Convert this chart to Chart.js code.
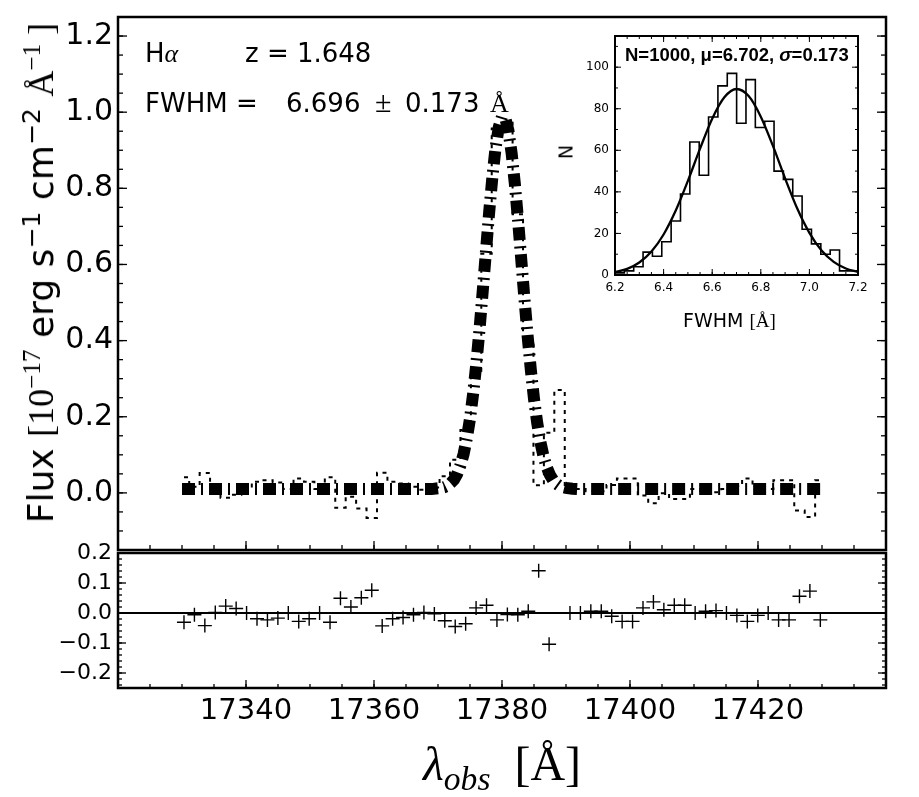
<!DOCTYPE html>
<html><head><meta charset="utf-8">
<script src="https://cdn.jsdelivr.net/npm/chart.js@4.4.1/dist/chart.umd.min.js"></script>
<style>
html,body{margin:0;padding:0;background:#fff;}
#wrap{position:relative;width:919px;height:797px;overflow:hidden;background:#fff;font-family:'DejaVu Sans',sans-serif;color:#000;}
canvas{position:absolute;}
.t{position:absolute;white-space:pre;line-height:1;}
.m{font-family:'Liberation Serif',serif;}
.ib{display:inline-block;}
sup{font-size:0.7em;vertical-align:0.5em;line-height:0;}
</style></head>
<body>
<div id="wrap">
<canvas id="cMain" width="919" height="552" style="left:0;top:0"></canvas>
<canvas id="cRes" width="919" height="257" style="left:0;top:540px"></canvas>
<canvas id="cIns" width="340" height="320" style="left:540px;top:20px"></canvas>

<div class="t" style="left:145px;top:40px;font-size:26px"><span class="ib" style="width:100px">H<i class="m">α</i></span>z = 1.648</div>
<div class="t" style="left:145px;top:87px;font-size:26px"><span class="ib" style="width:141px">FWHM =</span><span class="ib" style="width:89px">6.696</span><span class="ib m" style="width:30px;font-size:30px">±</span><span class="ib" style="width:85px">0.173</span><span class="m">Å</span></div>

<div class="t" id="ylab" style="left:41px;top:273px;font-size:36px;transform:translate(-50%,-50%) rotate(-90deg)">Flux <span class="m">[10<sup>−17</sup></span> erg s<sup>−1</sup> cm<sup>−2</sup> <span class="m">Å<sup>−1</sup> ]</span></div>

<div class="t m" style="left:423px;top:740px;font-size:48px"><i>λ</i><i style="font-size:0.7em;position:relative;top:10px">obs</i>  [Å]</div>

<div class="t" style="left:625px;top:46px;font-size:18.5px;font-family:'Liberation Sans',sans-serif;font-weight:bold">N=1000, μ=6.702, <i>σ</i>=0.173</div>
<div class="t" style="left:683px;top:311px;font-size:19px">FWHM <span class="m">[Å]</span></div>
<div class="t" style="left:566px;top:152px;font-size:19px;transform:translate(-50%,-50%) rotate(-90deg)">N</div>
</div>
<script>
// ---------- data ----------
const wavelength = [17330.31,17331.94,17333.57,17335.20,17336.83,17338.46,17340.09,17341.72,17343.35,17344.98,
 17346.61,17348.24,17349.87,17351.50,17353.13,17354.76,17356.39,17358.02,17359.65,17361.28,
 17362.91,17364.54,17366.17,17367.80,17369.43,17371.06,17372.69,17374.32,17375.95,17377.58,
 17379.21,17380.84,17382.47,17384.10,17385.73,17387.36,17388.99,17390.62,17392.25,17393.88,
 17395.51,17397.14,17398.77,17400.40,17402.03,17403.66,17405.29,17406.92,17408.55,17410.18,
 17411.81,17413.44,17415.07,17416.70,17418.33,17419.96,17421.59,17423.22,17424.85,17426.48,
 17428.11,17429.74];
const flux = [0.041,0.016,0.052,0.008,-0.013,-0.005,0.010,0.029,0.033,0.027,
 0.010,0.038,0.029,0.010,0.041,-0.039,-0.010,-0.041,-0.066,0.053,
 0.029,0.025,0.016,0.008,0.014,0.044,0.087,0.165,0.317,0.628,
 0.957,0.972,0.732,0.390,0.020,0.158,0.270,0.010,0.010,0.004,
 0.004,0.021,0.038,0.038,-0.007,-0.027,-0.001,-0.016,-0.016,0.010,
 0.004,0.002,0.010,0.018,0.038,0.018,0.010,0.033,0.033,-0.046,
 -0.063,0.033];
const residual = [-0.031,-0.006,-0.042,0.002,0.023,0.015,0.000,-0.019,-0.023,-0.017,
 0.000,-0.028,-0.019,0.000,-0.031,0.049,0.020,0.051,0.076,-0.043,
 -0.019,-0.015,-0.006,0.002,-0.003,-0.026,-0.045,-0.036,0.017,0.026,
 -0.023,-0.005,-0.006,0.006,0.141,-0.104,null,0.000,0.000,0.006,
 0.006,-0.011,-0.028,-0.028,0.017,0.037,0.011,0.026,0.026,0.000,
 0.006,0.008,0.000,-0.008,-0.028,-0.008,0.000,-0.023,-0.023,0.056,
 0.073,-0.023];
const modelWave = [17330,17340,17350,17360,17366,17368,17369,17370,17370.5,17371,17371.5,17372,17372.5,17373,17373.5,
 17374,17374.5,17375,17375.5,17376,17376.5,17377,17377.5,17378,17378.5,17379,17379.5,17380,17380.5,17381,
 17381.5,17382,17382.5,17383,17383.5,17384,17384.5,17385,17385.5,17386,17386.5,17387,17387.5,17388,17388.5,
 17389,17389.5,17390,17391,17392,17400,17410,17420,17430];
const modelFlux = [0.010,0.010,0.010,0.010,0.010,0.010,0.010,0.012,0.013,0.015,0.019,0.026,0.035,0.050,0.072,
 0.102,0.143,0.195,0.262,0.341,0.432,0.532,0.636,0.738,0.830,0.907,0.961,0.988,0.985,0.952,
 0.893,0.813,0.718,0.615,0.511,0.413,0.324,0.247,0.184,0.134,0.095,0.067,0.047,0.033,0.024,
 0.018,0.015,0.013,0.011,0.010,0.010,0.010,0.010,0.010];
const fwhmBinEdges = [6.2000,6.2385,6.2770,6.3155,6.3540,6.3925,6.4310,6.4695,6.5080,6.5465,6.5850,6.6235,6.6620,
 6.7005,6.7390,6.7775,6.8160,6.8545,6.8930,6.9315,6.9700,7.0085,7.0470,7.0855,7.1240,7.1625,7.2010];
const fwhmCounts = [1,2,4,11,9,16,26,39,64,48,76,91,97,73,94,71,74,50,46,38,22,15,10,12,2,2];
const gaussX = [6.20,6.25,6.30,6.35,6.40,6.45,6.50,6.55,6.60,6.65,6.70,6.75,6.80,6.85,6.90,6.95,7.00,7.05,7.10,7.15,7.20];
const gaussN = [1.33,2.95,6.02,11.3,19.5,31.0,45.3,60.8,75.2,85.5,89.5,86.1,76.2,62.1,46.5,32.0,20.3,11.8,6.35,3.13,1.42];
const xTicksMain = [17340,17360,17380,17400,17420];
const yTicksMain = [0.0,0.2,0.4,0.6,0.8,1.0,1.2];
const yTicksRes = [-0.2,-0.1,0.0,0.1,0.2];
const xTicksIns = [6.2,6.4,6.6,6.8,7.0,7.2];
const yTicksIns = [0,20,40,60,80,100];

// ---------- helpers ----------
Chart.defaults.font.family = "'DejaVu Sans', sans-serif";
Chart.defaults.color = '#000';

const framePlugin = {
  id: 'frame',
  afterDatasetsDraw(chart, args, o) {
    const {ctx, chartArea: a} = chart;
    const xs = chart.scales.x, ys = chart.scales.y;
    ctx.save();
    ctx.strokeStyle = '#000';
    ctx.lineCap = 'butt';
    const seg = (x1,y1,x2,y2) => {ctx.beginPath();ctx.moveTo(x1,y1);ctx.lineTo(x2,y2);ctx.stroke();};
    ctx.lineWidth = o.tickWidth;
    const yTick = (v,len) => {
      const p = ys.getPixelForValue(v);
      if (p < a.top - 0.5 || p > a.bottom + 0.5) return;
      if (o.sides.left) seg(a.left,p,a.left+len,p);
      if (o.sides.right) seg(a.right,p,a.right-len,p);
    };
    const xTick = (v,len) => {
      const p = xs.getPixelForValue(v);
      if (p < a.left - 0.5 || p > a.right + 0.5) return;
      if (o.sides.bottom) seg(p,a.bottom,p,a.bottom-len);
      if (o.sides.top) seg(p,a.top,p,a.top+len);
    };
    for (let k = Math.ceil(ys.min/o.yMinor - 1e-9); k*o.yMinor <= ys.max + 1e-9; k++) yTick(k*o.yMinor, o.minorLen);
    for (let k = Math.ceil(xs.min/o.xMinor - 1e-9); k*o.xMinor <= xs.max + 1e-9; k++) xTick(k*o.xMinor, o.minorLen);
    ys.ticks.forEach(t => yTick(t.value, o.majorLen));
    xs.ticks.forEach(t => xTick(t.value, o.majorLen));
    if (o.hline !== undefined) {
      ctx.lineWidth = o.hlineWidth;
      const p = ys.getPixelForValue(o.hline);
      seg(a.left,p,a.right,p);
    }
    ctx.lineWidth = o.frameWidth;
    ctx.strokeRect(a.left, a.top, a.right - a.left, a.bottom - a.top);
    ctx.restore();
  }
};

const setTicks = arr => (s => { s.ticks = arr.map(v => ({value: v})); });
const fixY = w => (s => { s.width = w; s.paddingTop = 0; s.paddingBottom = 0; });
const fixX = h => (s => { s.height = h; s.paddingLeft = 0; s.paddingRight = 0; });
const fmt1 = v => (v < -1e-9 ? '\u2212' : '') + Math.abs(v).toFixed(1);
const baseOpts = {responsive:false, animation:false, devicePixelRatio:1, events:[]};
const noGrid = {display:false, drawTicks:false};

// ---------- main spectrum panel ----------
new Chart(document.getElementById('cMain'), {
  type: 'line',
  data: {datasets: [
    {label:'spectrum', data: wavelength.map((x,i)=>({x, y: flux[i]})), stepped:'middle',
     borderColor:'#000', borderWidth:2, borderDash:[4,5], pointRadius:0, fill:false},
    {label:'model', data: modelWave.map((x,i)=>({x, y: modelFlux[i]})),
     borderColor:'#000', borderWidth:12, borderDash:[13,6,2,6], pointRadius:0, fill:false, tension:0}
  ]},
  options: Object.assign({}, baseOpts, {
    layout:{padding:{left:0,right:33,top:17,bottom:2}},
    plugins:{legend:{display:false}, tooltip:{enabled:false},
      frame:{sides:{left:true,right:true,bottom:true,top:false}, xMinor:5, yMinor:0.05,
             majorLen:9, minorLen:5, tickWidth:1.3, frameWidth:2.5}},
    scales:{
      x:{type:'linear', min:17320, max:17440, afterBuildTicks:setTicks(xTicksMain),
         ticks:{display:false}, grid:noGrid, border:{display:false}, afterFit:fixX(0)},
      y:{type:'linear', min:-0.15, max:1.25, afterBuildTicks:setTicks(yTicksMain),
         ticks:{font:{size:30}, padding:5, callback:v=>fmt1(v)}, grid:noGrid, border:{display:false},
         afterFit:fixY(118)}
    }
  }),
  plugins:[framePlugin]
});

// ---------- residual panel ----------
new Chart(document.getElementById('cRes'), {
  type: 'scatter',
  data: {datasets: [
    {label:'residual', data: wavelength.map((x,i)=>({x, y: residual[i]})),
     pointStyle:'cross', pointRadius:7, pointBorderWidth:1.4, borderColor:'#000', backgroundColor:'#000', showLine:false}
  ]},
  options: Object.assign({}, baseOpts, {
    layout:{padding:{left:0,right:33,top:13,bottom:0}},
    plugins:{legend:{display:false}, tooltip:{enabled:false},
      frame:{sides:{left:true,right:true,bottom:true,top:false}, xMinor:5, yMinor:0.02,
             majorLen:8, minorLen:4, tickWidth:1.3, frameWidth:2.5, hline:0, hlineWidth:2}},
    scales:{
      x:{type:'linear', min:17320, max:17440, afterBuildTicks:setTicks(xTicksMain),
         ticks:{font:{size:29}, padding:6, maxRotation:0, callback:v=>String(v)}, grid:noGrid, border:{display:false},
         afterFit:fixX(109)},
      y:{type:'linear', min:-0.25, max:0.2, afterBuildTicks:setTicks(yTicksRes),
         ticks:{font:{size:22}, padding:6, callback:v=>fmt1(v)}, grid:noGrid, border:{display:false},
         afterFit:fixY(118)}
    }
  }),
  plugins:[framePlugin]
});

// ---------- inset histogram ----------
const histPts = fwhmBinEdges.map((e,k)=>({x:e, y: fwhmCounts[Math.min(k, fwhmCounts.length-1)]}));
new Chart(document.getElementById('cIns'), {
  type: 'line',
  data: {datasets: [
    {label:'hist', data: histPts, stepped:'before', borderColor:'#000', borderWidth:1.6, pointRadius:0, fill:false},
    {label:'fit', data: gaussX.map((x,i)=>({x, y: gaussN[i]})), borderColor:'#000', borderWidth:2.3,
     pointRadius:0, fill:false, cubicInterpolationMode:'monotone'}
  ]},
  options: Object.assign({}, baseOpts, {
    layout:{padding:{left:0,right:22,top:16,bottom:0}},
    plugins:{legend:{display:false}, tooltip:{enabled:false},
      frame:{sides:{left:true,right:true,bottom:true,top:true}, xMinor:0.05, yMinor:10,
             majorLen:6, minorLen:3, tickWidth:1, frameWidth:2}},
    scales:{
      x:{type:'linear', min:6.2, max:7.2, afterBuildTicks:setTicks(xTicksIns),
         ticks:{font:{size:12}, padding:6, maxRotation:0, callback:v=>v.toFixed(1)}, grid:noGrid, border:{display:false},
         afterFit:fixX(65)},
      y:{type:'linear', min:0, max:115, afterBuildTicks:setTicks(yTicksIns),
         ticks:{font:{size:12}, padding:6, callback:v=>String(v)}, grid:noGrid, border:{display:false},
         afterFit:fixY(75)}
    }
  }),
  plugins:[framePlugin]
});
</script>
</body></html>
